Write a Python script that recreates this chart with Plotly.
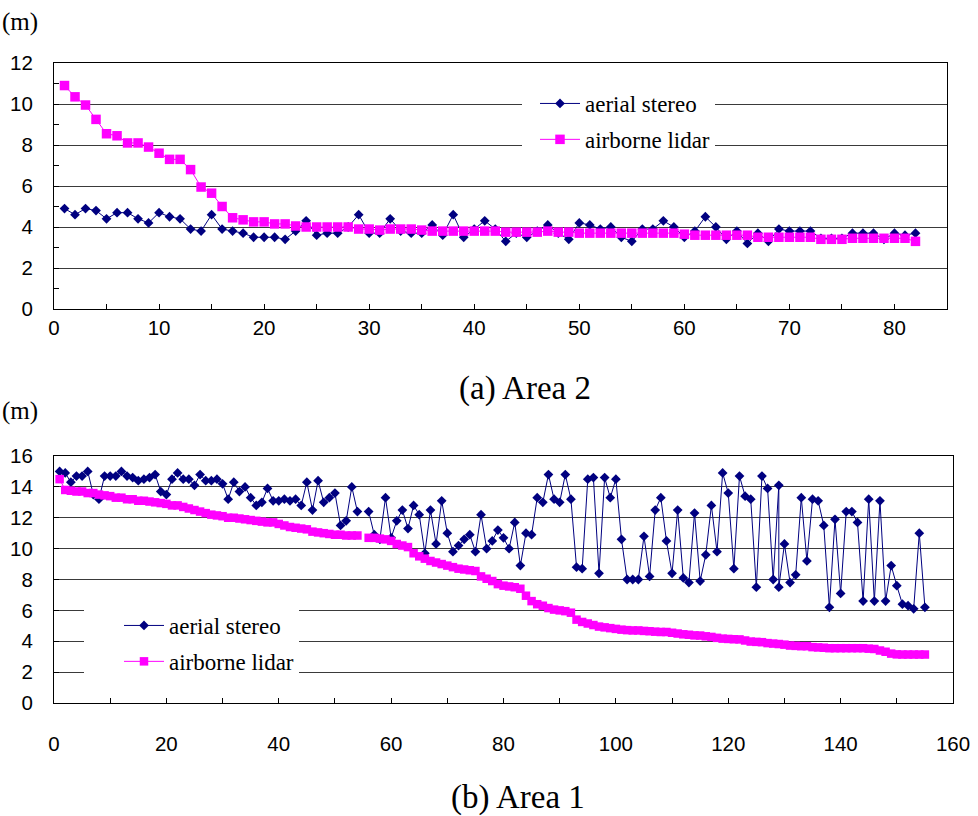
import plotly.graph_objects as go

# ---------------- Area 2 (upper panel) ----------------
area2_x = list(range(1, 83))
area2_stereo = [
    4.9, 4.6, 4.9, 4.8, 4.4, 4.7, 4.7, 4.4, 4.2, 4.7,
    4.5, 4.4, 3.9, 3.8, 4.6, 3.9, 3.8, 3.7, 3.5, 3.5,
    3.5, 3.4, 3.8, 4.3, 3.6, 3.7, 3.7, 4.0, 4.6, 3.7,
    3.7, 4.4, 3.8, 3.7, 3.7, 4.1, 3.6, 4.6, 3.5, 3.9,
    4.3, 3.9, 3.3, 3.7, 3.5, 3.8, 4.1, 3.7, 3.4, 4.2,
    4.1, 3.9, 4.0, 3.5, 3.3, 3.9, 3.9, 4.3, 4.0, 3.5,
    3.8, 4.5, 4.0, 3.4, 3.8, 3.2, 3.7, 3.3, 3.9, 3.8,
    3.8, 3.8, 3.45, 3.45, 3.45, 3.7, 3.7, 3.7, 3.4, 3.7,
    3.6, 3.7,
]
area2_lidar = [
    10.9, 10.35, 9.95, 9.25, 8.55, 8.45, 8.1, 8.1, 7.9, 7.6,
    7.3, 7.3, 6.8, 5.95, 5.65, 5.0, 4.45, 4.35, 4.25, 4.25,
    4.15, 4.15, 4.05, 4.0, 4.0, 4.0, 4.0, 4.0, 3.9, 3.9,
    3.85, 3.9, 3.9, 3.9, 3.85, 3.8, 3.8, 3.8, 3.8, 3.8,
    3.8, 3.8, 3.75, 3.75, 3.75, 3.75, 3.8, 3.75, 3.75, 3.7,
    3.7, 3.7, 3.7, 3.7, 3.7, 3.7, 3.7, 3.7, 3.7, 3.65,
    3.6, 3.6, 3.6, 3.6, 3.6, 3.6, 3.5, 3.5, 3.5, 3.5,
    3.5, 3.5, 3.4, 3.4, 3.4, 3.45, 3.45, 3.45, 3.45, 3.45,
    3.45, 3.3,
]

# ---------------- Area 1 (lower panel) ----------------
# tree 129 was measured twice by stereo, hence the repeated x value
area1_stereo_x = list(range(1, 130)) + [129] + list(range(130, 156))
area1_stereo = [
    15.0, 14.9, 14.3, 14.7, 14.7, 15.0, 13.5, 13.2, 14.7, 14.7,
    14.7, 15.0, 14.7, 14.6, 14.4, 14.5, 14.6, 14.8, 13.7, 13.5,
    14.5, 14.9, 14.5, 14.5, 14.1, 14.8, 14.4, 14.4, 14.5, 14.2,
    13.2, 14.3, 13.7, 14.0, 13.3, 12.8, 13.0, 13.9, 13.1, 13.1,
    13.2, 13.1, 13.2, 12.8, 14.3, 12.5, 14.4, 13.0, 13.3, 13.6,
    11.5, 11.8, 14.0, 12.4, None, 12.4, 10.9, 10.6, 13.3, 10.7,
    11.8, 12.5, 11.3, 12.8, 12.2, 9.7, 12.5, 10.3, 13.1, 11.0,
    9.8, 10.2, 10.6, 10.9, 9.8, 12.2, 10.0, 10.5, 11.2, 10.7,
    10.0, 11.7, 8.9, 11.0, 10.9, 13.3, 13.0, 14.8, 13.2, 13.0,
    14.8, 13.2, 8.8, 8.7, 14.5, 14.6, 8.4, 14.6, 13.3, 14.5,
    10.6, 8.0, 8.0, 8.0, 10.8, 8.2, 12.5, 13.3, 10.5, 8.4,
    12.5, 8.1, 7.8, 12.3, 7.9, 9.6, 12.8, 9.8, 14.9, 13.6,
    8.7, 14.7, 13.4, 13.2, 7.5, 14.7, 13.9, 8.0, 14.1, 7.5,
    10.3, 7.8, 8.3, 13.3, 9.2, 13.2, 13.1, 11.5, 6.2, 11.9,
    7.1, 12.4, 12.4, 11.7, 6.6, 13.2, 6.6, 13.1, 6.6, 8.9,
    7.6, 6.4, 6.3, 6.1, 11.0, 6.2,
]
area1_lidar_x = list(range(1, 156))
area1_lidar = [
    14.5, 13.8, 13.75, 13.7, 13.7, 13.6, 13.6, 13.5, 13.45, 13.4,
    13.3, 13.3, 13.2, 13.2, 13.1, 13.1, 13.05, 13.0, 12.95, 12.9,
    12.8, 12.8, 12.7, 12.6, 12.5, 12.4, 12.3, 12.2, 12.15, 12.1,
    12.0, 12.0, 11.95, 11.9, 11.85, 11.8, 11.75, 11.7, 11.7, 11.6,
    11.5, 11.4, 11.35, 11.3, 11.25, 11.1, 11.05, 11.0, 10.95, 10.9,
    10.9, 10.85, 10.85, 10.85, None, 10.7, 10.7, 10.65, 10.6, 10.5,
    10.3, 10.2, 10.1, 9.7, 9.5, 9.35, 9.2, 9.1, 9.0, 8.9,
    8.8, 8.7, 8.65, 8.6, 8.55, 8.2, 8.05, 7.9, 7.7, 7.6,
    7.55, 7.5, 7.4, 6.95, 6.6, 6.4, 6.3, 6.15, 6.05, 6.0,
    5.95, 5.85, 5.4, 5.25, 5.15, 5.05, 4.95, 4.9, 4.85, 4.8,
    4.75, 4.72, 4.7, 4.7, 4.67, 4.65, 4.62, 4.6, 4.6, 4.55,
    4.5, 4.45, 4.42, 4.38, 4.37, 4.32, 4.28, 4.22, 4.17, 4.15,
    4.13, 4.12, 4.05, 3.98, 3.96, 3.94, 3.88, 3.85, 3.82, 3.78,
    3.72, 3.7, 3.68, 3.68, 3.62, 3.6, 3.58, 3.55, 3.55, 3.55,
    3.55, 3.55, 3.55, 3.55, 3.52, 3.5, 3.4, 3.32, 3.2, 3.15,
    3.14, 3.14, 3.14, 3.14, 3.14,
]

SERIES_NAMES = ["aerial stereo", "airborne lidar"]
NAVY = "#000080"
MAGENTA = "#FF00FF"

W, H = 978, 816
SANS = "Liberation Sans, Arial, sans-serif"
SERIF = "Liberation Serif, Times New Roman, serif"


def px_x(p):
    return p / W


def px_y(p):
    return 1 - p / H


fig = go.Figure()

# upper panel traces
fig.add_trace(go.Scatter(
    x=area2_x, y=area2_stereo, name=SERIES_NAMES[0], mode="lines+markers",
    line=dict(color=NAVY, width=1), marker=dict(symbol="diamond", size=7.5, color=NAVY),
    xaxis="x", yaxis="y", legend="legend", legendgroup="a2s"))
fig.add_trace(go.Scatter(
    x=area2_x, y=area2_lidar, name=SERIES_NAMES[1], mode="lines+markers",
    line=dict(color=MAGENTA, width=1), marker=dict(symbol="square", size=9.5, color=MAGENTA),
    xaxis="x", yaxis="y", legend="legend", legendgroup="a2l"))

# lower panel traces
fig.add_trace(go.Scatter(
    x=area1_stereo_x, y=area1_stereo, name=SERIES_NAMES[0], mode="lines+markers",
    line=dict(color=NAVY, width=1), marker=dict(symbol="diamond", size=7.5, color=NAVY),
    connectgaps=False, xaxis="x2", yaxis="y2", legend="legend2", legendgroup="a1s"))
fig.add_trace(go.Scatter(
    x=area1_lidar_x, y=area1_lidar, name=SERIES_NAMES[1], mode="lines+markers",
    line=dict(color=MAGENTA, width=1), marker=dict(symbol="square", size=8.5, color=MAGENTA),
    connectgaps=False, xaxis="x2", yaxis="y2", legend="legend2", legendgroup="a1l"))

tick_font = dict(family=SANS, size=20.5, color="black")
axis_common = dict(showline=True, linecolor="black", linewidth=1, mirror=True,
                   zeroline=False, tickfont=tick_font, ticks="inside", ticklen=5,
                   tickcolor="black", fixedrange=True, automargin=False)
legend_font = dict(family=SERIF, size=23, color="black")

fig.update_layout(
    width=W, height=H,
    margin=dict(l=0, r=0, t=0, b=0, autoexpand=False),
    paper_bgcolor="white", plot_bgcolor="white",
    font=dict(family=SERIF, color="black"),
    xaxis=dict(domain=[px_x(54), px_x(947)], anchor="y", range=[0, 85],
               tick0=0, dtick=10, showgrid=False, ticklabelstandoff=0,
               minor=dict(dtick=5, ticks="inside", ticklen=5, tickcolor="black", showgrid=False),
               **axis_common),
    yaxis=dict(domain=[px_y(309), px_y(63)], anchor="x", range=[0, 12],
               tick0=0, dtick=2, showgrid=True, gridcolor="#3a3a3a", gridwidth=1,
               ticklabelstandoff=16,
               minor=dict(dtick=1, ticks="inside", ticklen=5, tickcolor="black", showgrid=False),
               **axis_common),
    xaxis2=dict(domain=[px_x(54), px_x(953)], anchor="y2", range=[0, 160],
                tick0=0, dtick=20, showgrid=False, ticklabelstandoff=22,
                minor=dict(dtick=10, ticks="inside", ticklen=5, tickcolor="black", showgrid=False),
                **axis_common),
    yaxis2=dict(domain=[px_y(703), px_y(456)], anchor="x2", range=[0, 16],
                tick0=0, dtick=2, showgrid=True, gridcolor="#3a3a3a", gridwidth=1,
                ticklabelstandoff=16, **axis_common),
    legend=dict(x=px_x(522), y=px_y(82), xanchor="left", yanchor="top",
                bgcolor="white", borderwidth=0, tracegroupgap=3, indentation=13,
                entrywidth=182, entrywidthmode="pixels",
                traceorder="grouped", itemwidth=40, font=legend_font),
    legend2=dict(x=px_x(84), y=px_y(604), xanchor="left", yanchor="top",
                 bgcolor="white", borderwidth=0, tracegroupgap=3, indentation=35,
                 entrywidth=200, entrywidthmode="pixels",
                 traceorder="grouped", itemwidth=40, font=legend_font),
    annotations=[
        dict(text="(m)", x=px_x(20), y=px_y(22), xref="paper", yref="paper",
             xanchor="center", yanchor="middle", showarrow=False,
             font=dict(family=SERIF, size=25, color="black")),
        dict(text="(m)", x=px_x(20), y=px_y(411), xref="paper", yref="paper",
             xanchor="center", yanchor="middle", showarrow=False,
             font=dict(family=SERIF, size=25, color="black")),
        dict(text="(a) Area 2", x=px_x(525), y=px_y(388), xref="paper", yref="paper",
             xanchor="center", yanchor="middle", showarrow=False,
             font=dict(family=SERIF, size=33, color="black")),
        dict(text="(b) Area 1", x=px_x(518), y=px_y(797), xref="paper", yref="paper",
             xanchor="center", yanchor="middle", showarrow=False,
             font=dict(family=SERIF, size=33, color="black")),
    ],
)

fig.write_html("out.html")
